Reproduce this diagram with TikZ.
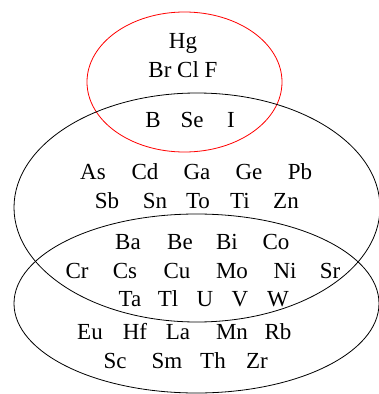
\documentclass[tikz,border=0pt]{standalone}
\usepackage{fontspec}
\setmainfont{Liberation Serif}
\begin{document}
\begin{tikzpicture}[x=1pt,y=-1pt,
  el/.style={anchor=base,inner sep=0pt,font=\fontsize{23}{27}\selectfont},
  ring/.style={line width=0.8pt}]
\useasboundingbox (0,0) rectangle (379,394);
\draw[ring,red] (184.5,82) ellipse [x radius=97.5,y radius=70];
\draw[ring] (197,207.5) ellipse [x radius=183,y radius=114.5];
\draw[ring] (196.5,303.5) ellipse [x radius=182.5,y radius=89.5];
% red only
\node[el] (hg) at (183,48) {Hg};
\node[el] (brclf) at (183,77) {Br Cl F};
% red and black
\node[el] (b) at (153,127) {B};
\node[el] (se) at (192,127) {Se};
\node[el] (i) at (231,127) {I};
% top black only
\node[el] (as) at (93,179) {As};
\node[el] (cd) at (145,179) {Cd};
\node[el] (ga) at (197,179) {Ga};
\node[el] (ge) at (249,179) {Ge};
\node[el] (pb) at (300,179) {Pb};
\node[el] (sb) at (107,208) {Sb};
\node[el] (sn) at (155,208) {Sn};
\node[el] (to) at (198,208) {To};
\node[el] (ti) at (240,208) {Ti};
\node[el] (zn) at (286,208) {Zn};
% intersection
\node[el] (ba) at (128,249) {Ba};
\node[el] (be) at (180,249) {Be};
\node[el] (bi) at (227,249) {Bi};
\node[el] (co) at (276,249) {Co};
\node[el] (cr) at (77,278) {Cr};
\node[el] (cs) at (125,278) {Cs};
\node[el] (cu) at (177,278) {Cu};
\node[el] (mo) at (232,278) {Mo};
\node[el] (ni) at (285,278) {Ni};
\node[el] (sr) at (330,278) {Sr};
\node[el] (ta) at (130,306) {Ta};
\node[el] (tl) at (168,306) {Tl};
\node[el] (u) at (205,306) {U};
\node[el] (v) at (240,306) {V};
\node[el] (w) at (278,306) {W};
% bottom only
\node[el] (eu) at (90,339) {Eu};
\node[el] (hf) at (135,339) {Hf};
\node[el] (la) at (178,339) {La};
\node[el] (mn) at (232,339) {Mn};
\node[el] (rb) at (278,339) {Rb};
\node[el] (sc) at (115,368) {Sc};
\node[el] (sm) at (167,368) {Sm};
\node[el] (th) at (213,368) {Th};
\node[el] (zr) at (257,368) {Zr};
\end{tikzpicture}
\end{document}
